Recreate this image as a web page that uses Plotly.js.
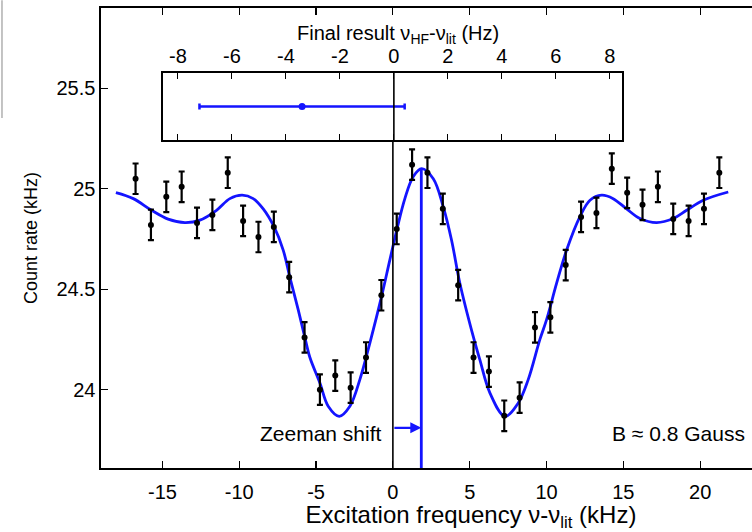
<!DOCTYPE html>
<html><head><meta charset="utf-8">
<script src="https://cdn.plot.ly/plotly-3.0.1.min.js"></script>
<style>html,body{margin:0;padding:0;overflow:hidden;background:#fff}</style>
</head><body><div id="chart" style="width:860px;height:532px"></div>
<script>
// Measured count rate vs excitation frequency
const freq = [-16.75,-15.75,-14.75,-13.75,-12.75,-11.75,-10.75,-9.75,-8.75,-7.75,-6.75,-5.75,-4.75,-3.75,-2.75,-1.75,-0.75,0.25,1.25,2.25,3.25,4.25,5.25,6.25,7.25,8.25,9.25,10.25,11.25,12.25,13.25,14.25,15.25,16.25,17.25,18.25,19.25,20.25,21.25];
const countRate = [25.05,24.82,24.96,25.01,24.83,24.87,25.08,24.84,24.76,24.81,24.56,24.26,24.00,24.07,24.01,24.16,24.47,24.80,25.12,25.08,24.90,24.52,24.16,24.09,23.87,23.96,24.31,24.36,24.62,24.86,24.88,25.10,24.98,24.92,25.01,24.85,24.84,24.90,25.08];
const countErr = [0.076,0.076,0.076,0.076,0.076,0.076,0.076,0.076,0.076,0.076,0.076,0.076,0.076,0.076,0.076,0.076,0.076,0.076,0.076,0.076,0.076,0.076,0.076,0.076,0.076,0.076,0.076,0.076,0.076,0.076,0.076,0.076,0.076,0.076,0.076,0.076,0.076,0.076,0.076];
// Fit curve
const fitFreq = [-18.03,-16.9,-15.71,-14.63,-13.54,-12.56,-11.48,-10.61,-9.81,-9.09,-8.44,-7.73,-7.14,-6.71,-6.16,-5.73,-5.40,-4.75,-4.21,-3.49,-2.80,-2.15,-1.5,-0.74,-0.2,0.26,0.78,1.32,1.87,2.63,3.28,3.82,4.36,5.23,5.66,6.32,7.29,8.16,8.81,9.57,10.0,10.66,11.31,12.17,12.83,13.59,14.34,15.21,16.08,17.17,18.25,19.12,20.2,21.83];
const fitRate = [24.981,24.951,24.893,24.849,24.832,24.844,24.893,24.951,24.968,24.951,24.90,24.81,24.695,24.56,24.397,24.26,24.16,24.033,23.917,23.867,23.917,24.05,24.232,24.463,24.645,24.797,24.951,25.06,25.10,25.05,24.91,24.744,24.53,24.265,24.149,23.983,23.867,23.934,24.05,24.25,24.347,24.53,24.695,24.86,24.943,24.968,24.951,24.90,24.852,24.832,24.852,24.893,24.943,24.984];
const zeemanShift = 1.85;
const peakRate = 25.10;
const arrowRate = 23.81;
// Inset: final result
const finalResult = [-3.4];
const finalErr = [3.8];
const xTicks = [-15,-10,-5,0,5,10,15,20];
const yTicks = [24,24.5,25,25.5];
const yTickText = ['24','24.5','25','25.5'];
const insetTicks = [-8,-6,-4,-2,0,2,4,6,8];

const yMin = 23.61, yMax = 25.9;
const blue = 'rgb(20,20,255)';
const F = 'Liberation Sans, Arial, sans-serif';

const traces = [
  {x: fitFreq, y: fitRate, mode:'lines', line:{color:blue, width:2.8, shape:'spline', smoothing:1}, xaxis:'x', yaxis:'y', hoverinfo:'skip'},
  {x: [zeemanShift, zeemanShift], y: [yMin, peakRate], mode:'lines', line:{color:blue, width:2.8}, xaxis:'x', yaxis:'y'},
  {x: freq, y: countRate, mode:'markers', marker:{color:'black', size:6},
   error_y:{type:'data', array: countErr, visible:true, color:'black', thickness:2.2, width:3}, xaxis:'x', yaxis:'y'},
  {x: finalResult, y: [0.5], mode:'markers', marker:{color:blue, size:7},
   error_x:{type:'data', array: finalErr, visible:true, color:blue, thickness:2.5, width:3}, xaxis:'x2', yaxis:'y2'}
];

const axCommon = {showline:true, linecolor:'black', linewidth:1.6, ticks:'inside', ticklen:7, tickwidth:1.2, tickcolor:'black',
  showgrid:false, zeroline:false, tickfont:{family:F, size:20, color:'black'}};

const layout = {
  width: 860, height: 532,
  margin: {l:101, r:19, t:8, b:64},
  paper_bgcolor:'white', plot_bgcolor:'white',
  showlegend:false,
  font:{family:F, color:'black'},
  xaxis: Object.assign({}, axCommon, {range:[-19, 29.17], tickvals:xTicks, ticktext:xTicks.map(String), mirror:'ticks',
    ticklabelstandoff:5,
    title:{text:'Excitation frequency ν-ν<sub>lit</sub> (kHz)', font:{family:F, size:24, color:'black'}, standoff:1}}),
  yaxis: Object.assign({}, axCommon, {range:[yMin, yMax], tickvals:yTicks, ticktext:yTickText, mirror:'ticks',
    title:{text:'Count rate (kHz)', font:{family:F, size:18, color:'black'}, standoff:14}}),
  xaxis2: Object.assign({}, axCommon, {domain:[0.0838, 0.7041], anchor:'y2', side:'top', range:[-8.55, 8.45],
    tickvals:insetTicks, ticktext:insetTicks.map(String), mirror:'ticks', ticklen:6}),
  yaxis2: {domain:[0.713, 0.8587], anchor:'x2', range:[0,1], showline:true, linecolor:'black', linewidth:1.6, mirror:true,
    showticklabels:false, ticks:'', showgrid:false, zeroline:false},
  shapes: [
    {type:'line', xref:'x', yref:'paper', x0:0, x1:0, y0:0, y1:0.713, line:{color:'black', width:1.6}},
    {type:'line', xref:'x2', yref:'paper', x0:0, x1:0, y0:0.713, y1:0.8587, line:{color:'black', width:1.6}},
    {type:'line', xref:'paper', yref:'paper', x0:-0.1338, x1:-0.1338, y0:1.017, y1:0.761, line:{color:'#b0b0b0', width:1.5}}
  ],
  annotations: [
    {xref:'paper', yref:'paper', x:0.401, y:0.943, text:'Final result ν<sub>HF</sub>-ν<sub>lit</sub> (Hz)', showarrow:false,
     font:{family:F, size:20, color:'black'}, xanchor:'center', yanchor:'middle'},
    {xref:'x', yref:'y', x:zeemanShift, y:arrowRate, ax:0, ay:arrowRate, axref:'x', ayref:'y', text:'', showarrow:true,
     arrowhead:2, arrowsize:1, arrowwidth:2.2, arrowcolor:blue, standoff:0, startstandoff:0},
    {xref:'x', yref:'y', x:-0.6, y:23.78, text:'Zeeman shift', showarrow:false, xanchor:'right', yanchor:'middle',
     font:{family:F, size:21, color:'black'}},
    {xref:'x', yref:'y', x:23.05, y:23.78, text:'B ≈ 0.8 Gauss', showarrow:false, xanchor:'right', yanchor:'middle',
     font:{family:F, size:21, color:'black'}}
  ]
};

Plotly.newPlot('chart', traces, layout, {displayModeBar:false, staticPlot:true});
</script></body></html>
